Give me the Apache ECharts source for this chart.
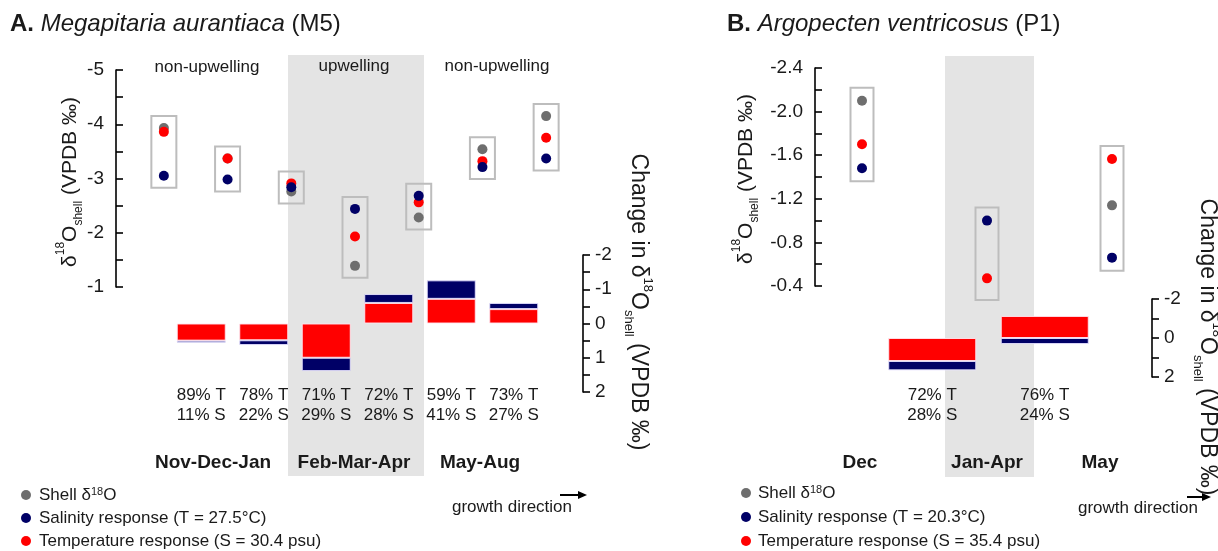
<!DOCTYPE html>
<html><head><meta charset="utf-8">
<script src="https://cdn.jsdelivr.net/npm/echarts@6/dist/echarts.min.js"></script>
<style>html,body{margin:0;padding:0;background:#fff}#c{width:1218px;height:551px}</style>
</head><body><div id="c"></div>
<script>
// ---------- Panel A: Megapitaria aurantiaca (M5) ----------
const colsA = ['1','2','3','4','5','6','7'];
const shellA = [-3.93, -3.37, -2.76, -1.39, -2.28, -3.54, -4.15];
const tempA  = [-3.86, -3.37, -2.91, -1.93, -2.56, -3.32, -3.75];
const salA   = [-3.05, -2.98, -2.84, -2.44, -2.68, -3.21, -3.37];
const barTA  = [0.50, 0.49, 1.00, -0.60, -0.72, -0.42];
const barSA  = [0.06, 0.14, 0.39, -0.26, -0.54, -0.18];
const tPctA  = [89, 78, 71, 72, 59, 73];
const sPctA  = [11, 22, 29, 28, 41, 27];
const seasonsA = ['Nov-Dec-Jan', 'Feb-Mar-Apr', 'May-Aug'];
const regimesA = ['non-upwelling', 'upwelling', 'non-upwelling'];
const leftTicksA  = [-5, -4, -3, -2, -1];
const rightTicksA = [-2, -1, 0, 1, 2];
const legendA = ['Shell δ18O', 'Salinity response (T = 27.5°C)', 'Temperature response (S = 30.4 psu)'];

// ---------- Panel B: Argopecten ventricosus (P1) ----------
const colsB = ['1','2','3'];
const shellB = [-2.10, -0.39, -1.14];
const tempB  = [-1.70, -0.47, -1.565];
const salB   = [-1.48, -1.00, -0.66];
const barTB  = [1.18, -1.13];
const barSB  = [0.48, 0.31];
const tPctB  = [72, 76];
const sPctB  = [28, 24];
const seasonsB = ['Dec', 'Jan-Apr', 'May'];
const leftTicksB  = [-2.4, -2.0, -1.6, -1.2, -0.8, -0.4];
const rightTicksB = [-2, 0, 2];
const legendB = ['Shell δ18O', 'Salinity response (T = 20.3°C)', 'Temperature response (S = 35.4 psu)'];

const FONT = "'Liberation Sans', Arial, sans-serif";
const TXT = '#1a1a1a';
const GRAY = '#6e6e6e', NAVY = '#000066', RED = '#ff0000', BAND = '#e4e4e4';

function hasTick(list, v){ return list.some(t => Math.abs(t - v) < 1e-6); }

function boxRender(pad, halfW){
  return function(params, api){
    const p1 = api.coord([api.value(0), api.value(1)]);
    const p2 = api.coord([api.value(0), api.value(2)]);
    const top = Math.min(p1[1], p2[1]) - pad;
    const bot = Math.max(p1[1], p2[1]) + pad;
    return {type:'rect', shape:{x:p1[0]-halfW, y:top, width:2*halfW, height:bot-top},
      style:{fill:'none', stroke:'#bdbdbd', lineWidth:2}};
  };
}
function boxData(cols, a, b, c){
  return cols.map((k,i)=>[i, Math.min(a[i],b[i],c[i]), Math.max(a[i],b[i],c[i])]);
}

const axisLineStyle = {show:true, lineStyle:{color:'#000', width:1.6}};
const tickStyle = {show:true, length:7, lineStyle:{color:'#000', width:1.6}};

const richTitle = {
  m:{fontSize:21, fontFamily:FONT, color:TXT, lineHeight:30},
  sup:{fontSize:12, fontFamily:FONT, color:TXT, verticalAlign:'top', lineHeight:14},
  sub:{fontSize:12, fontFamily:FONT, color:TXT, verticalAlign:'bottom', lineHeight:14}
};
const richTitleR = {
  m:{fontSize:23, fontFamily:FONT, color:TXT, lineHeight:32},
  sup:{fontSize:13, fontFamily:FONT, color:TXT, verticalAlign:'top', lineHeight:15},
  sub:{fontSize:13, fontFamily:FONT, color:TXT, verticalAlign:'bottom', lineHeight:15}
};
const leftTitle = '{m|δ}{sup|18}{m|O}{sub|shell}{m| (VPDB ‰)}';
const rightTitle = '{m|Change in δ}{sup|18}{m|O}{sub|shell}{m| (VPDB ‰)}';

function txt(x, y, text, size, bold){
  return {type:'text', x:x, y:y, z:10, style:{text:text, fontSize:size, fontWeight:bold?'bold':'normal',
    fontFamily:FONT, fill:TXT, align:'center', verticalAlign:'middle'}};
}
function arrow(x1, x2, y){
  return [
    {type:'line', z:10, shape:{x1:x1, y1:y, x2:x2-6, y2:y}, style:{stroke:'#000', lineWidth:2}},
    {type:'polygon', z:10, shape:{points:[[x2,y],[x2-9,y-4],[x2-9,y+4]]}, style:{fill:'#000'}}
  ];
}

const graphics = [
  {type:'rect', z:0, shape:{x:288, y:55, width:136, height:421}, style:{fill:BAND}},
  {type:'rect', z:0, shape:{x:945, y:56, width:89, height:421}, style:{fill:BAND}},
  txt(207, 67, regimesA[0], 17), txt(354, 66, regimesA[1], 17), txt(497, 66, regimesA[2], 17),
  txt(213, 463, seasonsA[0], 19, true), txt(354, 463, seasonsA[1], 19, true), txt(480, 463, seasonsA[2], 19, true),
  txt(860, 463, seasonsB[0], 19, true), txt(987, 463, seasonsB[1], 19, true), txt(1100, 463, seasonsB[2], 19, true),
  txt(512, 507, 'growth direction', 17), txt(1138, 508, 'growth direction', 17),
  ...arrow(560, 587, 495), ...arrow(1187, 1211, 497),
  {type:'text', x:70, y:182, rotation:Math.PI/2, z:10, style:{text:leftTitle, rich:richTitle, align:'center', verticalAlign:'middle', fontFamily:FONT, fill:TXT}},
  {type:'text', x:746, y:179, rotation:Math.PI/2, z:10, style:{text:leftTitle, rich:richTitle, align:'center', verticalAlign:'middle', fontFamily:FONT, fill:TXT}},
  {type:'text', x:638, y:302, rotation:-Math.PI/2, z:10, style:{text:rightTitle, rich:richTitleR, align:'center', verticalAlign:'middle', fontFamily:FONT, fill:TXT}},
  {type:'text', x:1207, y:347, rotation:-Math.PI/2, z:10, style:{text:rightTitle, rich:richTitleR, align:'center', verticalAlign:'middle', fontFamily:FONT, fill:TXT}}
];

const legendRich = {sup:{fontSize:11, verticalAlign:'top', fontFamily:FONT, color:TXT, lineHeight:12}, n:{fontSize:17, fontFamily:FONT, color:TXT, lineHeight:18}};
function legendFmt(name){
  if (name.indexOf('δ18O') >= 0) return '{n|Shell δ}{sup|18}{n|O}';
  return name;
}

const option = {
  animation:false,
  backgroundColor:'#fff',
  textStyle:{fontFamily:FONT},
  title:[
    {left:10, top:12, padding:0, text:'{b|A.} {i|Megapitaria aurantiaca} {n|(M5)}',
     textStyle:{fontSize:24, color:TXT, fontWeight:'normal', rich:{b:{fontSize:24, fontWeight:'bold', color:TXT}, i:{fontSize:24, fontStyle:'italic', color:TXT}, n:{fontSize:24, color:TXT}}}},
    {left:727, top:12, padding:0, text:'{b|B.} {i|Argopecten ventricosus} {n|(P1)}',
     textStyle:{fontSize:24, color:TXT, fontWeight:'normal', rich:{b:{fontSize:24, fontWeight:'bold', color:TXT}, i:{fontSize:24, fontStyle:'italic', color:TXT}, n:{fontSize:24, color:TXT}}}}
  ],
  legend:[
    {left:21, top:486, height:80, padding:0, orient:'vertical', itemGap:5, itemWidth:10, itemHeight:10, icon:'circle',
     data:legendA, formatter:legendFmt, textStyle:{fontSize:17, color:TXT, lineHeight:18, padding:[0,0,0,3], rich:legendRich}, selectedMode:false},
    {left:741, top:484, height:80, padding:0, orient:'vertical', itemGap:6, itemWidth:10, itemHeight:10, icon:'circle',
     data:legendB, formatter:legendFmt, textStyle:{fontSize:17, color:TXT, lineHeight:18, padding:[0,0,0,2], rich:legendRich}, selectedMode:false}
  ],
  graphic:graphics,
  grid:[
    {left:132, top:70, width:446, height:217},
    {left:170, top:255, width:375, height:137},
    {left:799.5, top:68, width:375, height:218},
    {left:876, top:299, width:225, height:78}
  ],
  xAxis:[
    {gridIndex:0, type:'category', data:colsA, show:false},
    {gridIndex:1, type:'category', data:tPctA.map((t,i)=>t+'% T\n'+sPctA[i]+'% S'),
     axisLine:{show:false}, axisTick:{show:false},
     axisLabel:{show:true, interval:0, margin:-7, fontSize:17, lineHeight:20, color:TXT}},
    {gridIndex:2, type:'category', data:colsB, show:false},
    {gridIndex:3, type:'category', data:tPctB.map((t,i)=>t+'% T\n'+sPctB[i]+'% S'),
     axisLine:{show:false}, axisTick:{show:false},
     axisLabel:{show:true, interval:0, margin:8, fontSize:17, lineHeight:20, color:TXT}}
  ],
  yAxis:[
    {gridIndex:0, type:'value', position:'left', offset:16, min:-5, max:-1, interval:0.5, inverse:true,
     axisLine:axisLineStyle, axisTick:Object.assign({inside:true}, tickStyle), splitLine:{show:false},
     axisLabel:{fontSize:19, color:TXT, margin:12, formatter:v=>hasTick(leftTicksA,v)?String(v):''}},
    {gridIndex:1, type:'value', position:'right', offset:38, min:-2, max:2, interval:0.5, inverse:true,
     axisLine:axisLineStyle, axisTick:tickStyle, splitLine:{show:false},
     axisLabel:{fontSize:19, color:TXT, margin:12, formatter:v=>hasTick(rightTicksA,v)?String(v):''}},
    {gridIndex:2, type:'value', position:'left', offset:-15.5, min:-2.4, max:-0.4, interval:0.2, inverse:true,
     axisLine:axisLineStyle, axisTick:Object.assign({inside:true}, tickStyle), splitLine:{show:false},
     axisLabel:{fontSize:19, color:TXT, margin:12, formatter:v=>hasTick(leftTicksB,v)?v.toFixed(1):''}},
    {gridIndex:3, type:'value', position:'right', offset:51, min:-2, max:2, interval:1, inverse:true,
     axisLine:axisLineStyle, axisTick:tickStyle, splitLine:{show:false},
     axisLabel:{fontSize:19, color:TXT, margin:12, formatter:v=>hasTick(rightTicksB,v)?String(v):''}}
  ],
  series:[
    {type:'custom', name:'boxA', xAxisIndex:0, yAxisIndex:0, renderItem:boxRender(12,12.5), data:boxData(colsA,shellA,tempA,salA), encode:{x:0,y:[1,2]}, z:3},
    {type:'scatter', name:legendA[0], xAxisIndex:0, yAxisIndex:0, data:shellA, symbolSize:10, itemStyle:{color:GRAY, opacity:1}, z:4},
    {type:'scatter', name:legendA[2], xAxisIndex:0, yAxisIndex:0, data:tempA, symbolSize:10, itemStyle:{color:RED, opacity:1}, z:5},
    {type:'scatter', name:legendA[1], xAxisIndex:0, yAxisIndex:0, data:salA, symbolSize:10, itemStyle:{color:NAVY, opacity:1}, z:6},
    {type:'bar', name:'T part A', xAxisIndex:1, yAxisIndex:1, stack:'a', data:barTA, barWidth:49,
     itemStyle:{color:RED, borderColor:'rgba(255,230,240,0.9)', borderWidth:1}, z:3},
    {type:'bar', name:'S part A', xAxisIndex:1, yAxisIndex:1, stack:'a', data:barSA, barWidth:49,
     itemStyle:{color:NAVY, borderColor:'rgba(230,225,255,0.9)', borderWidth:1}, z:3},
    {type:'custom', name:'boxB', xAxisIndex:2, yAxisIndex:2, renderItem:boxRender(13,11.5), data:boxData(colsB,shellB,tempB,salB), encode:{x:0,y:[1,2]}, z:3},
    {type:'scatter', name:legendB[0], xAxisIndex:2, yAxisIndex:2, data:shellB, symbolSize:10, itemStyle:{color:GRAY, opacity:1}, z:4},
    {type:'scatter', name:legendB[2], xAxisIndex:2, yAxisIndex:2, data:tempB, symbolSize:10, itemStyle:{color:RED, opacity:1}, z:5},
    {type:'scatter', name:legendB[1], xAxisIndex:2, yAxisIndex:2, data:salB, symbolSize:10, itemStyle:{color:NAVY, opacity:1}, z:6},
    {type:'bar', name:'T part B', xAxisIndex:3, yAxisIndex:3, stack:'b', data:barTB, barWidth:88,
     itemStyle:{color:RED, borderColor:'rgba(255,230,240,0.9)', borderWidth:1}, z:3},
    {type:'bar', name:'S part B', xAxisIndex:3, yAxisIndex:3, stack:'b', data:barSB, barWidth:88,
     itemStyle:{color:NAVY, borderColor:'rgba(230,225,255,0.9)', borderWidth:1}, z:3}
  ]
};
const chart = echarts.init(document.getElementById('c'), null, {renderer:'canvas'});
chart.setOption(option);
</script>
</body></html>
